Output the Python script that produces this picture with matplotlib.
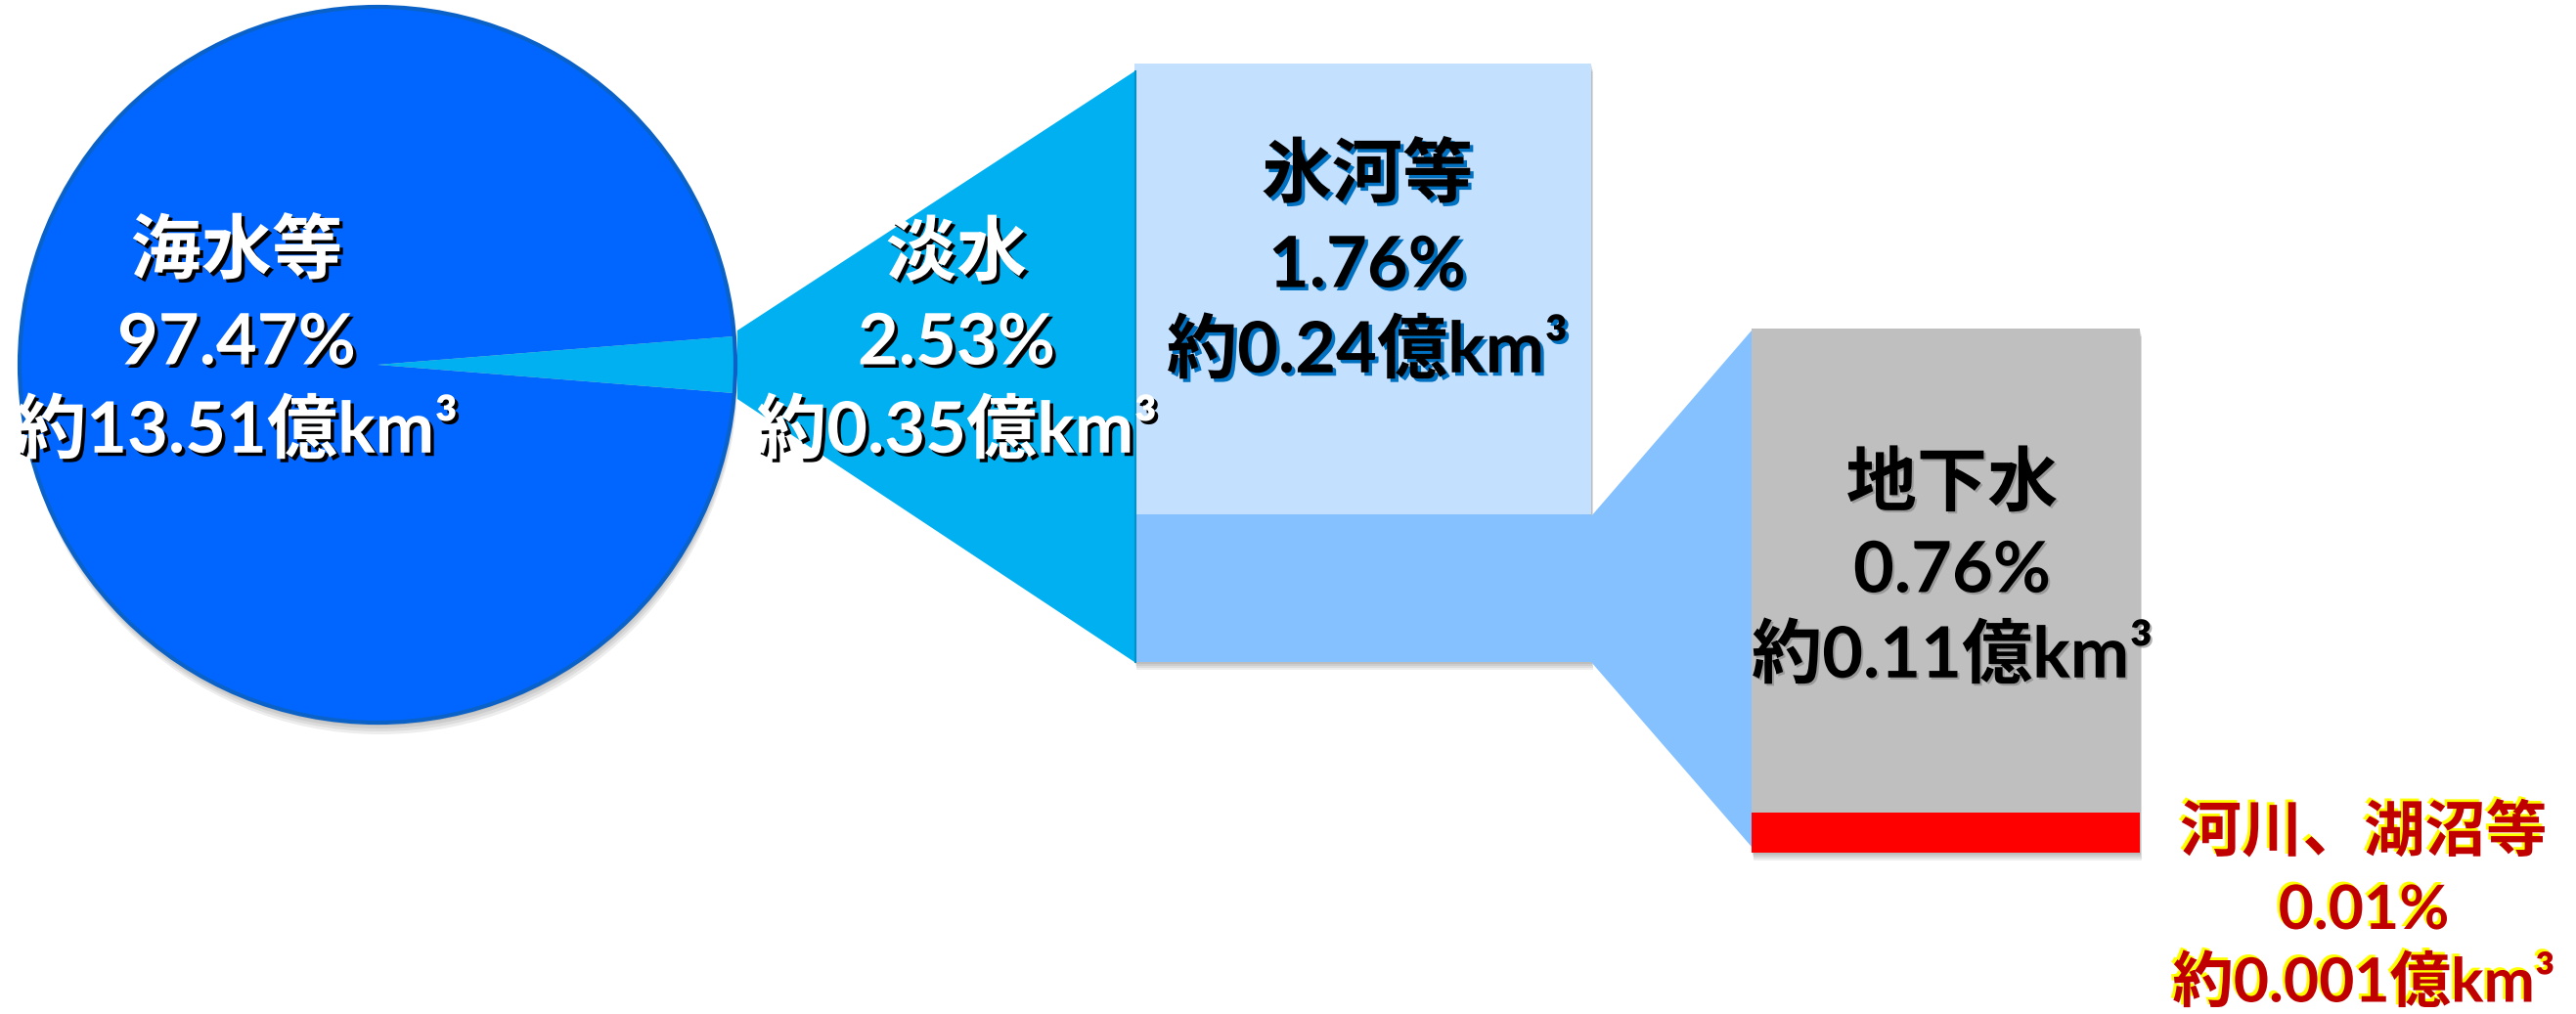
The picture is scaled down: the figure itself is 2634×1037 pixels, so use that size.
import matplotlib.pyplot as plt
import matplotlib.patheffects as pe
from matplotlib.patches import Polygon, Rectangle, Circle

# 英数字は Lato、漢字は Noto Sans CJK JP
plt.rcParams['font.family'] = ['Lato', 'Noto Sans CJK JP', 'DejaVu Sans']

# 地球上の水の量
names = ["海水等", "淡水", "氷河等", "地下水", "河川、湖沼等"]
shares = [97.47, 2.53, 1.76, 0.76, 0.01]            # %
volumes = ["13.51", "0.35", "0.24", "0.11", "0.001"]  # 億km³

W, H = 2634, 1037
fig = plt.figure(figsize=(W / 100, H / 100), dpi=100)
ax = fig.add_axes([0, 0, 1, 1])


def soft_shadow(patch_fn, steps=(3, 6, 9, 12), alpha=0.07):
    for off in steps:
        p = patch_fn(off)
        p.set_facecolor('black')
        p.set_alpha(alpha)
        p.set_linewidth(0)
        ax.add_patch(p)


# 円グラフ（海水等 / 淡水）
cx, cy, r = 386, 373, 366
soft_shadow(lambda o: Circle((cx + o * 0.2, cy + o), r))
ax.pie(shares[:2], colors=['#0066FF', '#00B0F0'], radius=r, center=(cx, cy),
       startangle=shares[1] * 1.8, wedgeprops=dict(linewidth=0))
ax.add_patch(Circle((cx, cy), r, fc='none', ec='#0A62C8', lw=3, zorder=3))

# 淡水の内訳へつなぐ台形
ax.add_patch(Polygon([(754, 338), (1160, 73), (1160, 677), (754, 408)],
                     fc='#00B0F0', lw=0, zorder=1))

# 淡水の内訳
x1, w1 = 1160, 467
soft_shadow(lambda o: Rectangle((x1 + o * 0.3, 65 + o), w1, 612), steps=(2, 4, 6, 8))
ax.add_patch(Rectangle((x1, 65), w1, 461, fc='#C3E0FE', lw=0, zorder=2))
ax.add_patch(Rectangle((x1, 526), w1, 151, fc='#85C1FF', lw=0, zorder=2))
ax.plot([x1 + 1, x1 + 1], [73, 677], color='#0090C8', lw=1.5, zorder=2)

# 地下水・河川への台形
ax.add_patch(Polygon([(1627, 528), (1791, 338), (1791, 866), (1627, 677)],
                     fc='#85C1FF', lw=0, zorder=1))

x2, w2 = 1791, 397
soft_shadow(lambda o: Rectangle((x2 + o * 0.3, 336 + o), w2, 536), steps=(2, 4, 6, 8))
ax.add_patch(Rectangle((x2, 336), w2, 495, fc='#BFBFBF', lw=0, zorder=2))
ax.add_patch(Rectangle((x2, 831), w2, 41, fc='#FF0000', lw=0, zorder=2))


def label(i, x, ys, size, color, shadow, offset, alpha=1.0):
    lines = [names[i], f"{shares[i]:.2f}%", f"約{volumes[i]}億km³"]
    for y, s in zip(ys, lines):
        ax.text(x, y, s, ha='center', va='center', fontsize=size, fontweight='bold',
                color=color, zorder=5,
                path_effects=[pe.SimplePatchShadow(offset=offset, shadow_rgbFace=shadow,
                                                   alpha=alpha),
                              pe.Normal()])


label(0, 242, (258, 352, 442), 52, 'white', 'black', (2.5, -2.5))
label(1, 978, (260, 352, 442), 52, 'white', 'black', (2.5, -2.5))
label(2, 1398, (180, 273, 360), 52, 'black', '#0070C0', (2.5, -2.5))
label(3, 1996, (496, 585, 672), 52, 'black', '#808080', (1.5, -1.5), alpha=0.6)
label(4, 2417, (851, 932, 1006), 45, '#C00000', '#FFFF00', (-2, 2))

ax.set_xlim(0, W)
ax.set_ylim(H, 0)
ax.set_aspect('equal')
ax.axis('off')
fig.savefig('out.png', dpi=100)
